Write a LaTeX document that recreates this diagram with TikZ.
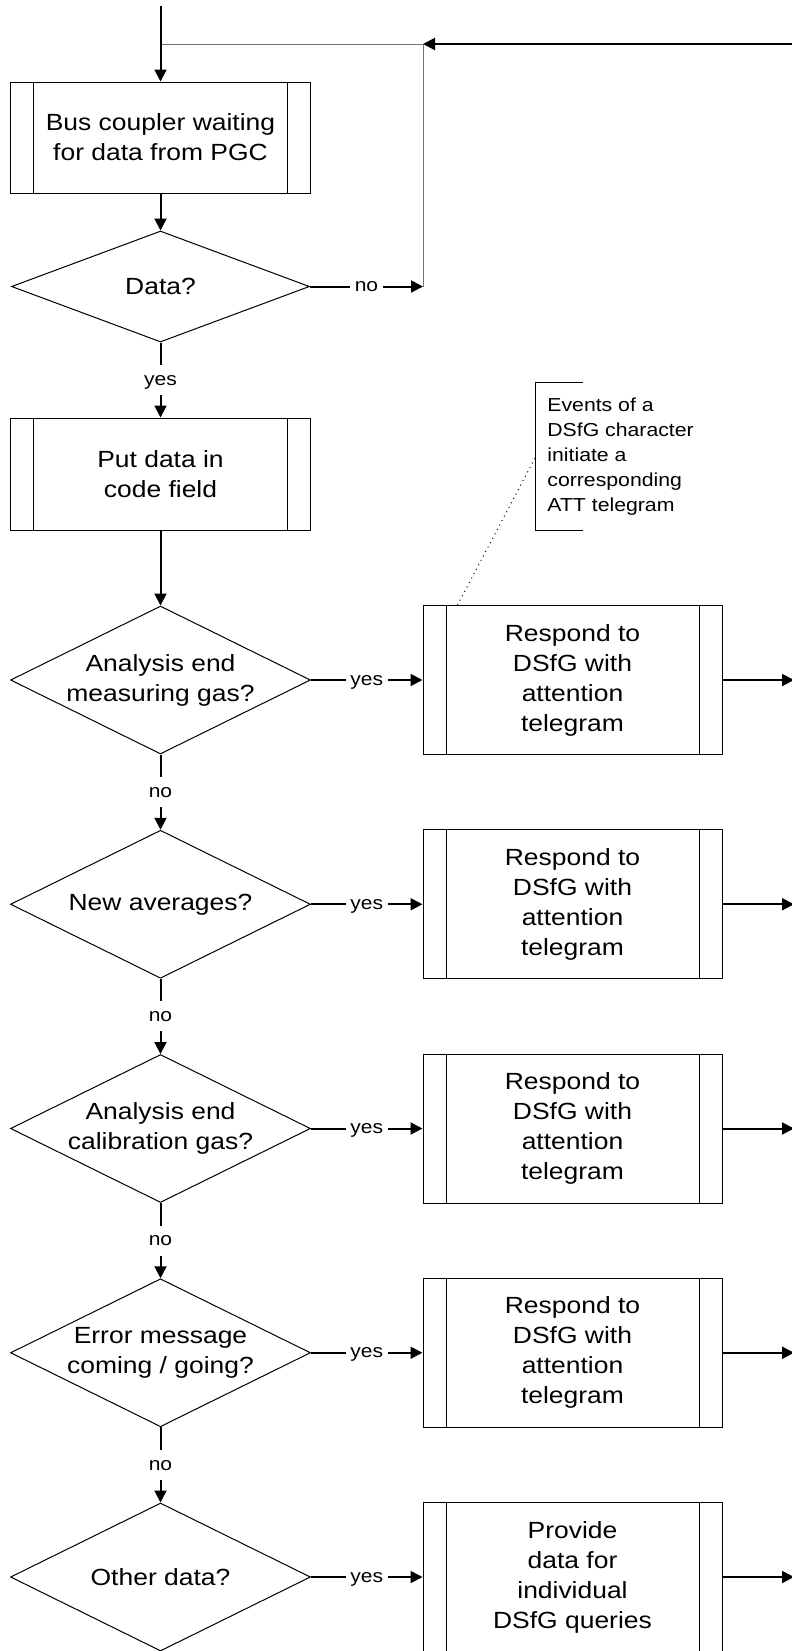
\documentclass[tikz,border=0pt]{standalone}
\usepackage{fontspec}
\setmainfont{Liberation Sans}[FakeStretch=1.13]
\usetikzlibrary{shapes.geometric,arrows.meta}
\newcommand\mainsz{\fontsize{11.7pt}{15pt}\selectfont}
\newcommand\labsz{\fontsize{9.3pt}{11pt}\selectfont}
\newcommand\annsz{\fontsize{9.4pt}{12.5pt}\selectfont}
\begin{document}
\begin{tikzpicture}[x=0.5pt,y=-0.5pt,
  proc/.style={draw, line width=0.5pt, minimum width=150pt, minimum height=55.5pt,
    inner sep=0pt, align=center, font=\mainsz,
    path picture={\draw[line width=0.5pt]
      ([xshift=11.5pt]path picture bounding box.north west) -- ([xshift=11.5pt]path picture bounding box.south west)
      ([xshift=-11.5pt]path picture bounding box.north east) -- ([xshift=-11.5pt]path picture bounding box.south east);}},
  rproc/.style={proc, minimum width=149.5pt, minimum height=74.5pt},
  dec/.style={draw, diamond, line width=0.5pt, minimum width=150pt, minimum height=74pt, inner sep=0pt},
  dtext/.style={align=center, font=\mainsz, inner sep=0pt},
  conn/.style={line width=1pt, -{Triangle[length=6pt,width=6pt]}},
  loopline/.style={line width=0.5pt, black!55},
  lab/.style={fill=white, font=\labsz, inner xsep=2.2pt, inner ysep=0pt,
    text height=0.52em, text depth=0pt, minimum height=15pt},
  anno/.style={align=left, font=\annsz, inner sep=0pt},
  bracket/.style={line width=0.5pt}
]
\path[fill=white, use as bounding box] (0,0) rectangle (792,1651);

% main column
\node[proc] (b1) at (160.5,137.5) {Bus coupler waiting\\for data from PGC};
\node[dec, minimum width=149pt, minimum height=55.5pt] (d1) at (160.5,286.5) {};
\node[dtext] (d1t) at (d1) {Data?};
\node[proc, minimum height=56pt] (b2) at (160.5,474) {Put data in\\code field};

\node[dec] (d2) at (160.5,680) {};
\node[dtext] (d2t) at (d2) {Analysis end\\measuring gas?};
\node[dec] (d3) at (160.5,904.25) {};
\node[dtext] (d3t) at (d3) {New averages?};
\node[dec] (d4) at (160.5,1128.5) {};
\node[dtext] (d4t) at (d4) {Analysis end\\calibration gas?};
\node[dec] (d5) at (160.5,1352.75) {};
\node[dtext] (d5t) at (d5) {Error message\\coming / going?};
\node[dec] (d6) at (160.5,1577) {};
\node[dtext] (d6t) at (d6) {Other data?};

% right column
\node[rproc] (r2) at (572.5,680) {Respond to\\DSfG with\\attention\\telegram};
\node[rproc] (r3) at (572.5,904.25) {Respond to\\DSfG with\\attention\\telegram};
\node[rproc] (r4) at (572.5,1128.5) {Respond to\\DSfG with\\attention\\telegram};
\node[rproc] (r5) at (572.5,1352.75) {Respond to\\DSfG with\\attention\\telegram};
\node[rproc] (r6) at (572.5,1577) {Provide\\data for\\individual\\DSfG queries};

% coordinates
\coordinate (top) at (160.5,6);
\coordinate (join) at (160.5,44);
\coordinate (loopT) at (423,44);
\coordinate (loopB) at (423,286.5);
\coordinate (ret) at (792,44);
\coordinate (o2) at (794,680);
\coordinate (o3) at (794,904.25);
\coordinate (o4) at (794,1128.5);
\coordinate (o5) at (794,1352.75);
\coordinate (o6) at (794,1577);

% loop back
\draw[loopline] (join) -- (loopT) -- (loopB);
\draw[conn] (ret) -- (loopT);
\draw[conn] (top) -- (b1.north);
\draw[conn] (b1) -- (d1);
\draw[conn] (d1.east) -- node[lab] {no} (loopB);
\draw[conn] (d1) -- node[lab] {yes} (b2);
\draw[conn] (b2) -- (d2);

\draw[conn] (d2.east) -- node[lab] {yes} (r2.west);
\draw[conn] (d3.east) -- node[lab] {yes} (r3.west);
\draw[conn] (d4.east) -- node[lab] {yes} (r4.west);
\draw[conn] (d5.east) -- node[lab] {yes} (r5.west);
\draw[conn] (d6.east) -- node[lab] {yes} (r6.west);

\draw[conn] (d2) -- node[lab] {no} (d3);
\draw[conn] (d3) -- node[lab] {no} (d4);
\draw[conn] (d4) -- node[lab] {no} (d5);
\draw[conn] (d5) -- node[lab] {no} (d6);

\draw[conn] (r2.east) -- (o2);
\draw[conn] (r3.east) -- (o3);
\draw[conn] (r4.east) -- (o4);
\draw[conn] (r5.east) -- (o5);
\draw[conn] (r6.east) -- (o6);

% annotation
\coordinate (bt) at (583,382);
\coordinate (bb) at (583,530);
\coordinate (bm) at (535,458);
\draw[bracket] (bt) -| (bb -| bm) -- (bb);
\node[anno, anchor=west] (note) at (547,457) {Events of a\\DSfG character\\initiate a\\corresponding\\ATT telegram};
\draw[line width=0.5pt, dotted] ([xshift=17.5pt]r2.north west) -- (bm);
\end{tikzpicture}
\end{document}
